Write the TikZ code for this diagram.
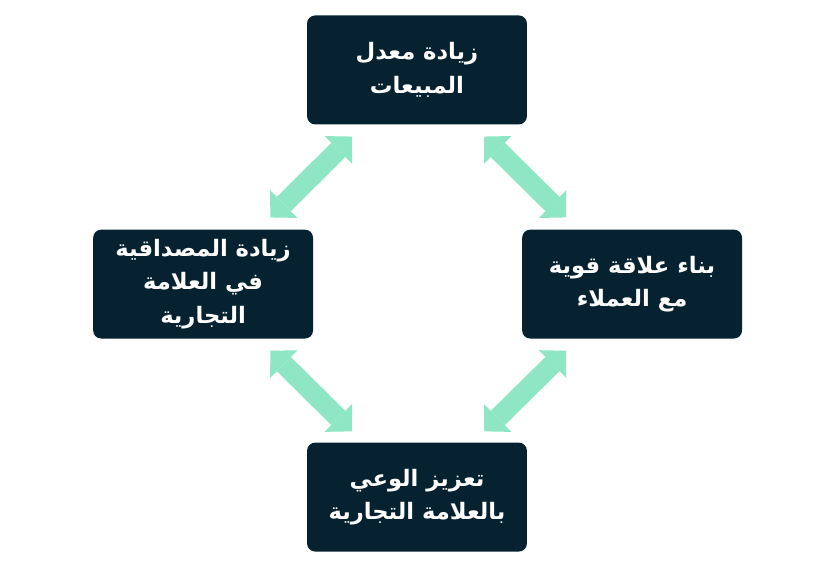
\documentclass[tikz,border=0pt]{standalone}
\usepackage{fontspec}
\newfontfamily\arabicfont[Script=Arabic]{DejaVu Sans}
\TeXXeTstate=1
\usetikzlibrary{arrows.meta}
\definecolor{bleuboite}{HTML}{062230}
\definecolor{vertfleche}{HTML}{8EE6C4}
\newcommand{\ligneR}[1]{\beginR #1\endR}

\begin{document}
\begin{tikzpicture}[
  boite/.style={fill=bleuboite, rounded corners=0.27cm, minimum width=7.33cm, minimum height=3.63cm,
    text=white, align=center, font=\arabicfont\bfseries\fontsize{21.5}{31.5}\selectfont},
  fleche/.style={draw=vertfleche, line width=19pt, {Triangle[width=37pt,length=18pt,line width=0pt]}-{Triangle[width=37pt,length=18pt,line width=0pt]}}]
\useasboundingbox (0,0) rectangle (27.667,-18.667);

%boites
\node[boite] (haut) at (13.9,-2.33) {\ligneR{زيادة معدل}\\\ligneR{المبيعات}};
\node[boite] (gauche) at (6.77,-9.47) {\ligneR{زيادة المصداقية}\\\ligneR{في العلامة}\\\ligneR{التجارية}};
\node[boite] (droite) at (21.07,-9.47) {\ligneR{بناء علاقة قوية}\\\ligneR{مع العملاء}};
\node[boite] (bas) at (13.9,-16.57) {\ligneR{تعزيز الوعي}\\\ligneR{بالعلامة التجارية}};

%fleches
\draw[fleche] ([shift={(1.5,-0.4)}]haut.south west) -- ([shift={(-1.43,0.4)}]gauche.north east);
\draw[fleche] ([shift={(-1.43,-0.4)}]haut.south east) -- ([shift={(1.47,0.4)}]droite.north west);
\draw[fleche] ([shift={(-1.43,-0.4)}]gauche.south east) -- ([shift={(1.5,0.37)}]bas.north west);
\draw[fleche] ([shift={(1.47,-0.4)}]droite.south west) -- ([shift={(-1.43,0.37)}]bas.north east);
\end{tikzpicture}
\end{document}
